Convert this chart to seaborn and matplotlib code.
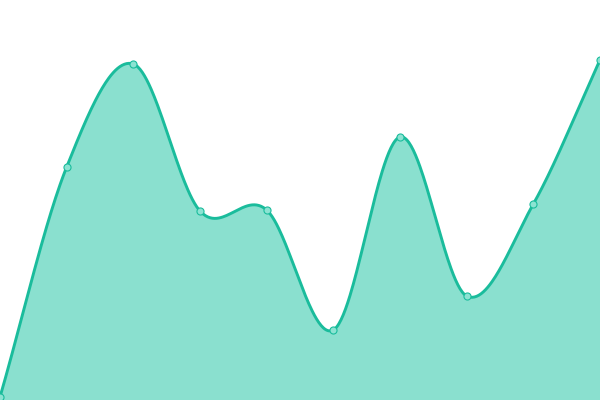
import numpy as np
import pandas as pd
import matplotlib
matplotlib.use("Agg")
import matplotlib.pyplot as plt
import seaborn as sns

# ---------------------------
# Data
# ---------------------------
x_idx = [0, 1, 2, 3, 4, 5, 6, 7, 8, 9]
values = [3, 233, 336, 189, 190, 70, 263, 104, 196, 340]

LINE_COLOR = "#1abc9c"
FILL_COLOR = "#8ae0cf"
MARKER_FILL = "#8ce3d2"


def catmull_rom(xs, ys, n=60):
    # smooth curve through the points (Catmull-Rom, ends extrapolated)
    xs = np.asarray(xs, dtype=float)
    ys = np.asarray(ys, dtype=float)
    ext = np.concatenate([[2 * ys[0] - ys[1]], ys, [2 * ys[-1] - ys[-2]]])
    out_x, out_y = [], []
    for i in range(len(xs) - 1):
        m1 = (ext[i + 2] - ext[i]) / 2.0
        m2 = (ext[i + 3] - ext[i + 1]) / 2.0
        t = np.linspace(0, 1, n, endpoint=False)
        h00 = 2 * t**3 - 3 * t**2 + 1
        h10 = t**3 - 2 * t**2 + t
        h01 = -2 * t**3 + 3 * t**2
        h11 = t**3 - t**2
        out_y.append(h00 * ys[i] + h10 * m1 + h01 * ys[i + 1] + h11 * m2)
        out_x.append(xs[i] + t * (xs[i + 1] - xs[i]))
    out_x.append([xs[-1]])
    out_y.append([ys[-1]])
    return np.concatenate(out_x), np.concatenate(out_y)


sx, sy = catmull_rom(x_idx, values)
curve = pd.DataFrame({"x": sx, "y": sy})
points = pd.DataFrame({"x": x_idx, "y": values})

# ---------------------------
# Plot
# ---------------------------
sns.set_style("white")
fig = plt.figure(figsize=(6, 4), dpi=100)
ax = fig.add_axes([0, 0, 1, 1])

ax.fill_between(curve["x"], curve["y"], 0, color=FILL_COLOR, linewidth=0)
sns.lineplot(data=curve, x="x", y="y", ax=ax, color=LINE_COLOR, linewidth=2.1,
             sort=False, estimator=None)
sns.scatterplot(data=points, x="x", y="y", ax=ax, s=26, color=MARKER_FILL,
                edgecolor=LINE_COLOR, linewidth=0.8, zorder=5, clip_on=True)

ax.set_xlim(0, 9)
ax.set_ylim(0, 400)
ax.axis("off")

fig.savefig("out.png", dpi=100)
